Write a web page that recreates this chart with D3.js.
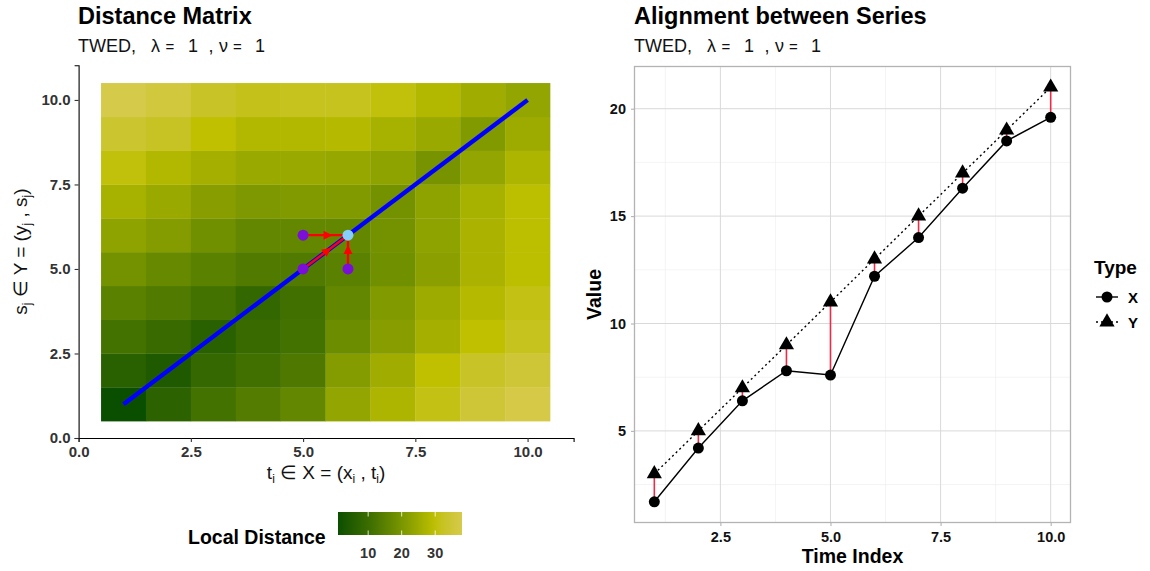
<!DOCTYPE html>
<html>
<head>
<meta charset="utf-8">
<script src="https://cdn.jsdelivr.net/npm/d3@7"></script>
<style>
  body { margin: 0; background: #fff; }
  svg { font-family: "Liberation Sans", Arial, sans-serif; }
</style>
</head>
<body>
<svg id="chart" width="1150" height="571"></svg>
<script>
// ---- data ----
const timeIndex = [1, 2, 3, 4, 5, 6, 7, 8, 9, 10];
const seriesX = [1.7, 4.2, 6.4, 7.8, 7.6, 12.2, 14.0, 16.3, 18.5, 19.6];
const seriesY = [3, 5, 7, 9, 11, 13, 15, 17, 19, 21];

// local distance, one row per j (1..10), one value per i (1..10)
const localDist = [
  [1, 7, 11.5, 14, 16.5, 23.5, 27.5, 31, 35, 37.5],
  [6.5, 4.5, 9, 11, 13, 21.5, 25.5, 30, 33, 35],
  [11.5, 9.5, 6.5, 9.5, 11.5, 18, 22, 26, 30, 32],
  [15, 13.5, 11.5, 8.5, 11, 16.5, 21, 25, 28.5, 31],
  [19, 17, 15, 13.5, 13.5, 15, 18.5, 22.5, 27, 29.5],
  [23, 21.5, 18.5, 16.5, 16.5, 16.5, 19, 23, 27, 29.5],
  [26.5, 24.5, 22, 20.5, 21, 21, 19, 23, 26.5, 29.5],
  [30.5, 28, 26, 24.5, 24.5, 24, 23, 19.5, 23.5, 27.5],
  [34, 32.5, 30, 28, 28, 28.5, 26.5, 24.5, 21, 25],
  [38, 36, 33, 31.5, 32, 32, 30.5, 28, 25.5, 23.5]
];

const pathStart = [1, 1];
const pathEnd = [10, 10];
const predecessors = [[5, 6], [5, 5], [6, 5]];
const currentCell = [6, 6];
const legendTicks = [10, 20, 30];
const fillDomain = [1, 10, 20, 30, 38];
const fillColours = ["#0a4f00", "#3a6c00", "#7a9600", "#c0c000", "#d6ca4a"];
const lambda = 1, nu = 1;

const svg = d3.select("#chart");

// ================= left: distance matrix =================
const cells = [];
localDist.forEach((row, j) => row.forEach((v, i) => cells.push({ i: i + 1, j: j + 1, v })));

const upper = 10.5 + 0.05 * 10.5;
const xL = d3.scaleLinear().domain([0, upper]).range([78.6, 573.6]);
const yL = d3.scaleLinear().domain([0, upper]).range([438, 65.3]);
const fill = d3.scaleLinear().domain(fillDomain).range(fillColours).interpolate(d3.interpolateLab);

const left = svg.append("g");
left.selectAll("rect.tile").data(cells).join("rect")
  .attr("class", "tile")
  .attr("x", d => xL(d.i - 0.5))
  .attr("y", d => yL(d.j + 0.5))
  .attr("width", d => xL(d.i + 0.5) - xL(d.i - 0.5) + 0.3)
  .attr("height", d => yL(d.j - 0.5) - yL(d.j + 0.5) + 0.3)
  .attr("fill", d => fill(d.v));

// warping path
left.append("line")
  .attr("x1", xL(pathStart[0])).attr("y1", yL(pathStart[1]))
  .attr("x2", xL(pathEnd[0])).attr("y2", yL(pathEnd[1]))
  .attr("stroke", "#0000ff").attr("stroke-width", 4.3);

// arrows from predecessors to current cell
predecessors.forEach(p => {
  const x1 = xL(p[0]), y1 = yL(p[1]), x2 = xL(currentCell[0]), y2 = yL(currentCell[1]);
  left.append("line")
    .attr("x1", x1).attr("y1", y1).attr("x2", x2).attr("y2", y2)
    .attr("stroke", "#ff0000").attr("stroke-width", 2.4);
  const a = Math.atan2(y2 - y1, x2 - x1);
  const mx = (x1 + x2) / 2 + 2 * Math.cos(a), my = (y1 + y2) / 2 + 2 * Math.sin(a);
  left.append("path")
    .attr("d", "M5,0 L-4,-4.5 L-4,4.5 Z")
    .attr("transform", `translate(${mx},${my}) rotate(${a * 180 / Math.PI})`)
    .attr("fill", "#ff0000");
});
left.selectAll("circle.pred").data(predecessors).join("circle")
  .attr("class", "pred")
  .attr("cx", d => xL(d[0])).attr("cy", d => yL(d[1])).attr("r", 5.5)
  .attr("fill", "#7a0fd8");
left.append("circle")
  .attr("cx", xL(currentCell[0])).attr("cy", yL(currentCell[1])).attr("r", 5.5)
  .attr("fill", "#87cefa");

// axes
const ticksL = [0, 2.5, 5, 7.5, 10];
const axL = left.append("g").attr("transform", `translate(0,438)`)
  .call(d3.axisBottom(xL).tickValues(ticksL).tickFormat(d3.format(".1f")).tickSizeOuter(0).tickSize(4));
const ayL = left.append("g").attr("transform", `translate(78.6,0)`)
  .call(d3.axisLeft(yL).tickValues(ticksL).tickFormat(d3.format(".1f")).tickSizeOuter(0).tickSize(4));
[axL, ayL].forEach(a => {
  a.select(".domain").attr("stroke", "#000").attr("stroke-width", 1.1);
  a.selectAll(".tick line").attr("stroke", "#333").attr("stroke-width", 1.1);
  a.selectAll(".tick text").attr("fill", "#333").attr("font-size", 15).attr("font-weight", "bold")
    .attr("font-family", "Liberation Sans, Arial, sans-serif");
});
axL.selectAll(".tick text").attr("dy", "0.8em");
ayL.selectAll(".tick text").attr("dx", "-1px");

// axis titles with subscripts
function subTitle(g, parts) {
  parts.forEach(p => {
    const t = g.append("tspan").text(p[0]);
    if (p[1]) t.attr("font-size", 12).attr("baseline-shift", "-4");
  });
}
const xt = left.append("text").attr("x", (78.6 + 573.6) / 2).attr("y", 479)
  .attr("text-anchor", "middle").attr("font-size", 19).attr("fill", "#111");
subTitle(xt, [["t"], ["i", 1], [" \u2208 X = (x"], ["i", 1], [" , t"], ["i", 1], [")"]]);
const yt = left.append("text").attr("transform", `translate(27,${(438 + 65.3) / 2}) rotate(-90)`)
  .attr("text-anchor", "middle").attr("font-size", 19).attr("fill", "#111");
subTitle(yt, [["s"], ["j", 1], [" \u2208 Y = (y"], ["j", 1], [" , s"], ["j", 1], [")"]]);

// titles
function titles(x, main) {
  svg.append("text").attr("x", x).attr("y", 24).attr("font-size", 23.5).attr("font-weight", "bold").text(main);
  const pieces = [["TWED,", 0], ["\u03bb", 73], ["=", 87.5, 15], [String(lambda), 110], [",", 130.5],
                  ["\u03bd", 141], ["=", 155, 15], [String(nu), 177]];
  pieces.forEach(p => {
    svg.append("text").attr("x", x + p[1]).attr("y", 52).attr("font-size", p[2] || 18).attr("fill", "#111").text(p[0]);
  });
}
titles(78, "Distance Matrix");
titles(634, "Alignment between Series");

// colour bar legend
const barX = d3.scaleLinear().domain(d3.extent(cells, d => d.v)).range([338, 462]);
const grad = svg.append("defs").append("linearGradient").attr("id", "ldgrad");
d3.range(0, 1.0001, 0.05).forEach(t => {
  grad.append("stop").attr("offset", t).attr("stop-color", fill(barX.domain()[0] + t * (barX.domain()[1] - barX.domain()[0])));
});
svg.append("rect").attr("x", 338).attr("y", 512).attr("width", 124).attr("height", 23).attr("fill", "url(#ldgrad)");
legendTicks.forEach(v => {
  svg.append("line").attr("x1", barX(v)).attr("x2", barX(v)).attr("y1", 512).attr("y2", 516.5).attr("stroke", "#fff").attr("stroke-width", 0.8);
  svg.append("line").attr("x1", barX(v)).attr("x2", barX(v)).attr("y1", 530.5).attr("y2", 535).attr("stroke", "#fff").attr("stroke-width", 0.8);
  svg.append("text").attr("x", barX(v)).attr("y", 558).attr("text-anchor", "middle")
    .attr("font-size", 14.5).attr("font-weight", "bold").attr("fill", "#333").text(v);
});
svg.append("text").attr("x", 188).attr("y", 544).attr("font-size", 19.5).attr("font-weight", "bold").text("Local Distance");

// ================= right: alignment =================
const allVals = seriesY.concat(seriesX);
const pad = 0.05 * (d3.max(allVals) - d3.min(allVals));
const xR = d3.scaleLinear().domain([0.55, 10.45]).range([634.5, 1070.5]);
const yR = d3.scaleLinear()
  .domain([d3.min(allVals) - pad, d3.max(allVals) + pad])
  .range([522.5, 66.5]);
const right = svg.append("g");
const gridMinorX = [1.25, 3.75, 6.25, 8.75], gridMajorX = [2.5, 5, 7.5, 10];
const gridMinorY = [2.5, 7.5, 12.5, 17.5], gridMajorY = [5, 10, 15, 20];
function vgrid(vals, cls, col, w) {
  right.selectAll("line." + cls).data(vals).join("line").attr("class", cls)
    .attr("x1", d => xR(d)).attr("x2", d => xR(d)).attr("y1", 66.5).attr("y2", 522.5)
    .attr("stroke", col).attr("stroke-width", w);
}
function hgrid(vals, cls, col, w) {
  right.selectAll("line." + cls).data(vals).join("line").attr("class", cls)
    .attr("y1", d => yR(d)).attr("y2", d => yR(d)).attr("x1", 634.5).attr("x2", 1070.5)
    .attr("stroke", col).attr("stroke-width", w);
}
vgrid(gridMinorX, "gmx", "#ececec", 0.6);
hgrid(gridMinorY, "gmy", "#ececec", 0.6);
vgrid(gridMajorX, "gMx", "#d9d9d9", 1);
hgrid(gridMajorY, "gMy", "#d9d9d9", 1);

// alignment segments
right.selectAll("line.align").data(timeIndex).join("line").attr("class", "align")
  .attr("x1", d => xR(d)).attr("x2", d => xR(d))
  .attr("y1", (d, k) => yR(seriesX[k])).attr("y2", (d, k) => yR(seriesY[k]))
  .attr("stroke", "#ee2a45").attr("stroke-width", 1.6);

const line = d3.line().x(d => xR(d[0])).y(d => yR(d[1]));
right.append("path").datum(timeIndex.map((t, k) => [t, seriesY[k]])).attr("d", line)
  .attr("fill", "none").attr("stroke", "#000").attr("stroke-width", 1.4).attr("stroke-dasharray", "2,3");
right.append("path").datum(timeIndex.map((t, k) => [t, seriesX[k]])).attr("d", line)
  .attr("fill", "none").attr("stroke", "#000").attr("stroke-width", 1.4);
right.selectAll("circle.px").data(timeIndex).join("circle").attr("class", "px")
  .attr("cx", d => xR(d)).attr("cy", (d, k) => yR(seriesX[k])).attr("r", 5.5).attr("fill", "#000");
const tri = d3.symbol().type(d3.symbolTriangle).size(100);
right.selectAll("path.py").data(timeIndex).join("path").attr("class", "py")
  .attr("d", tri).attr("transform", (d, k) => `translate(${xR(d)},${yR(seriesY[k])})`).attr("fill", "#000");

right.append("rect").attr("x", 634.5).attr("y", 66.5).attr("width", 436).attr("height", 456)
  .attr("fill", "none").attr("stroke", "#b3b3b3").attr("stroke-width", 1.3);

const axR = right.append("g").attr("transform", "translate(0,522.5)")
  .call(d3.axisBottom(xR).tickValues(gridMajorX).tickFormat(d3.format(".1f")).tickSizeOuter(0).tickSize(3.5).tickPadding(4));
const ayR = right.append("g").attr("transform", "translate(634.5,0)")
  .call(d3.axisLeft(yR).tickValues(gridMajorY).tickFormat(d3.format("d")).tickSizeOuter(0).tickSize(3.5).tickPadding(5));
[axR, ayR].forEach(a => {
  a.select(".domain").remove();
  a.selectAll(".tick line").attr("stroke", "#b3b3b3").attr("stroke-width", 1.1);
  a.selectAll(".tick text").attr("fill", "#111").attr("font-size", 14.5).attr("font-weight", "bold")
    .attr("font-family", "Liberation Sans, Arial, sans-serif");
});
axR.selectAll(".tick text").attr("dy", "0.85em");

svg.append("text").attr("x", (634.5 + 1070.5) / 2).attr("y", 563).attr("text-anchor", "middle")
  .attr("font-size", 19.5).attr("font-weight", "bold").text("Time Index");
svg.append("text").attr("transform", `translate(601,${(66.5 + 522.5) / 2}) rotate(-90)`).attr("text-anchor", "middle")
  .attr("font-size", 19.5).attr("font-weight", "bold").text("Value");

// legend
const lg = svg.append("g").attr("transform", "translate(1094,0)");
lg.append("text").attr("x", 0).attr("y", 274).attr("font-size", 19).attr("font-weight", "bold").text("Type");
lg.append("line").attr("x1", 2).attr("x2", 24).attr("y1", 297).attr("y2", 297).attr("stroke", "#000").attr("stroke-width", 1.4);
lg.append("circle").attr("cx", 13).attr("cy", 297).attr("r", 5.5).attr("fill", "#000");
lg.append("text").attr("x", 34).attr("y", 302.5).attr("font-size", 15).attr("font-weight", "bold").text("X");
lg.append("line").attr("x1", 2).attr("x2", 24).attr("y1", 322).attr("y2", 322).attr("stroke", "#000").attr("stroke-width", 1.4).attr("stroke-dasharray", "2,3");
lg.append("path").attr("d", tri).attr("transform", "translate(13,322)").attr("fill", "#000");
lg.append("text").attr("x", 34).attr("y", 327.5).attr("font-size", 15).attr("font-weight", "bold").text("Y");
</script>
</body>
</html>
